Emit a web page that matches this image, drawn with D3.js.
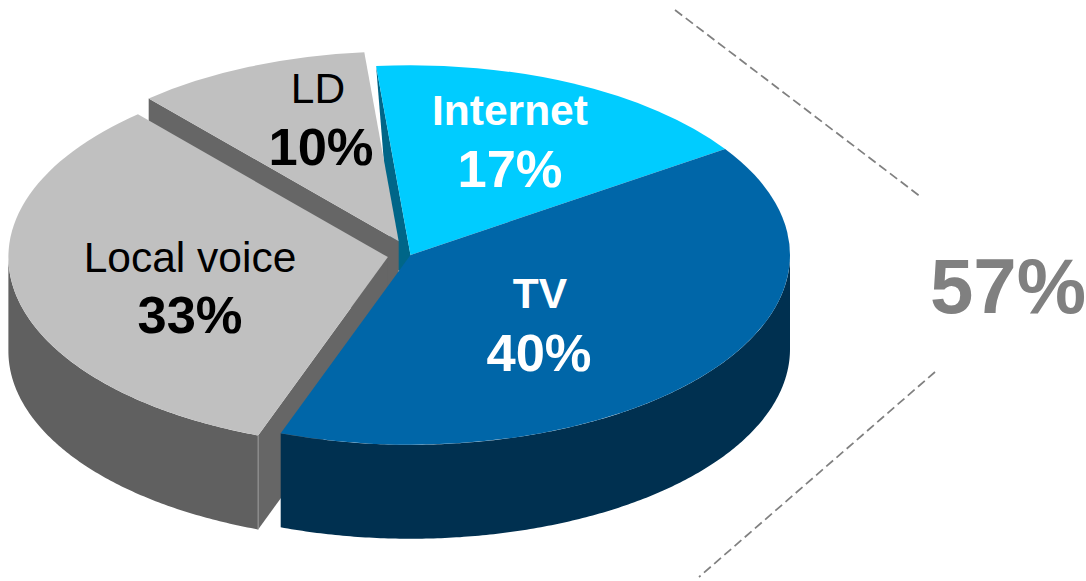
<!DOCTYPE html>
<html>
<head>
<meta charset="utf-8">
<script src="https://cdn.jsdelivr.net/npm/d3@7"></script>
<style>
  html, body { margin: 0; padding: 0; background: #fff; }
  text { font-family: "Liberation Sans", Arial, sans-serif; text-anchor: middle; }
</style>
</head>
<body>
<svg id="chart" width="1086" height="581"></svg>
<script>
// Revenue mix
const categories = ["Internet", "TV", "Local voice", "LD"];
const shares = [17, 40, 33, 10];
const bracketLabel = "57%";

// Styling per category: top face, rim wall, cut-face wall, text colours and weights
const topColors = ["#00CCFF", "#0066A8", "#C0C0C0", "#C0C0C0"];
const rimColors = ["#006688", "#003050", "#606060", "#606060"];
const cutColors = ["#006688", "#003050", "#666666", "#666666"];
const textColors = ["#FFFFFF", "#FFFFFF", "#000000", "#000000"];
const nameWeights = ["bold", "bold", "normal", "normal"];
const explode = [0, 0, 23, 30];
const labelAnchors = [[510, 125, 187], [540, 308, 371], [190, 272, 333], [318, 103, 165]];
const pctAnchors = [510, 539, 190, 321];

const cx = 410.5, cy = 255, rx = 379.5, tilt = 0.5, depth = 94;
const startDeg = -5.2;

const svg = d3.select("#chart");

const pie = d3.pie().sort(null)
  .startAngle(startDeg * Math.PI / 180)
  .endAngle((startDeg + 360) * Math.PI / 180);
const arcs = pie(shares).map((a, i) => {
  const mid = (a.startAngle + a.endAngle) / 2;
  return {
    ...a, i,
    dx: explode[i] * Math.sin(mid),
    dy: -explode[i] * Math.cos(mid) * tilt
  };
});

const arcGen = d3.arc().innerRadius(0).outerRadius(rx);
const rimPoint = (a, ang) => [a.dx + rx * Math.sin(ang), a.dy - rx * Math.cos(ang) * tilt];

const plot = svg.append("g").attr("transform", `translate(${cx},${cy})`);

function drawTop(a) {
  plot.append("path")
    .attr("d", arcGen(a))
    .attr("transform", `translate(${a.dx},${a.dy}) scale(1,${tilt})`)
    .attr("fill", topColors[a.i]);
}

// Outer wall: the rim swept straight down by the slab depth
function drawRim(a, from, to) {
  const angles = d3.range(from, to, 0.01).concat([to]);
  const area = d3.area()
    .x(t => rimPoint(a, t)[0])
    .y0(t => rimPoint(a, t)[1])
    .y1(t => rimPoint(a, t)[1] + depth);
  plot.append("path").attr("d", area(angles)).attr("fill", rimColors[a.i]);
}

// Flat wall along a radial cut, from the apex out to the rim
function drawCut(a, ang) {
  const p = rimPoint(a, ang);
  plot.append("path")
    .attr("d", d3.line()([[a.dx, a.dy], p, [p[0], p[1] + depth], [a.dx, a.dy + depth]]) + "Z")
    .attr("fill", cutColors[a.i]);
}

const [internet, tv, local, ld] = arcs;

// Back to front. The sliver on the Internet cut narrows to the rim.
const sliverTip = rimPoint(internet, internet.startAngle);
plot.append("path")
  .attr("d", d3.line()([
    sliverTip,
    [internet.dx, internet.dy],
    [internet.dx, internet.dy + 20],
    [internet.dx - 18, internet.dy + 13]
  ]) + "Z")
  .attr("fill", rimColors[internet.i]);
drawTop(internet);

drawCut(ld, ld.startAngle);
drawTop(ld);

drawCut(local, local.startAngle);
drawRim(local, local.startAngle, Math.min(local.endAngle, Math.PI * 1.5));
drawTop(local);
const seam = rimPoint(local, local.startAngle);
plot.append("line")
  .attr("x1", seam[0]).attr("x2", seam[0])
  .attr("y1", seam[1]).attr("y2", seam[1] + depth)
  .attr("stroke", "#999999").attr("stroke-width", 1);

drawRim(tv, Math.PI / 2, tv.endAngle);
drawTop(tv);

// Slice labels
categories.forEach((name, i) => {
  const [x, yName, yPct] = labelAnchors[i];
  svg.append("text").attr("x", x).attr("y", yName)
    .attr("font-size", 42.5).attr("font-weight", nameWeights[i])
    .attr("fill", textColors[i]).text(name);
  svg.append("text").attr("x", pctAnchors[i]).attr("y", yPct)
    .attr("font-size", 52.5).attr("font-weight", "bold")
    .attr("fill", textColors[i]).text(shares[i] + "%");
});

// Bracket around Internet + TV
const dashed = [[[675, 10], [921, 197]], [[935, 372], [699, 577]]];
dashed.forEach(([p, q]) => {
  svg.append("line")
    .attr("x1", p[0]).attr("y1", p[1]).attr("x2", q[0]).attr("y2", q[1])
    .attr("stroke", "#808080").attr("stroke-width", 1.75)
    .attr("stroke-dasharray", "9 4.5");
});
svg.append("text").attr("x", 1008).attr("y", 313)
  .attr("font-size", 78).attr("font-weight", "bold")
  .attr("fill", "#808080").text(bracketLabel);
</script>
</body>
</html>
